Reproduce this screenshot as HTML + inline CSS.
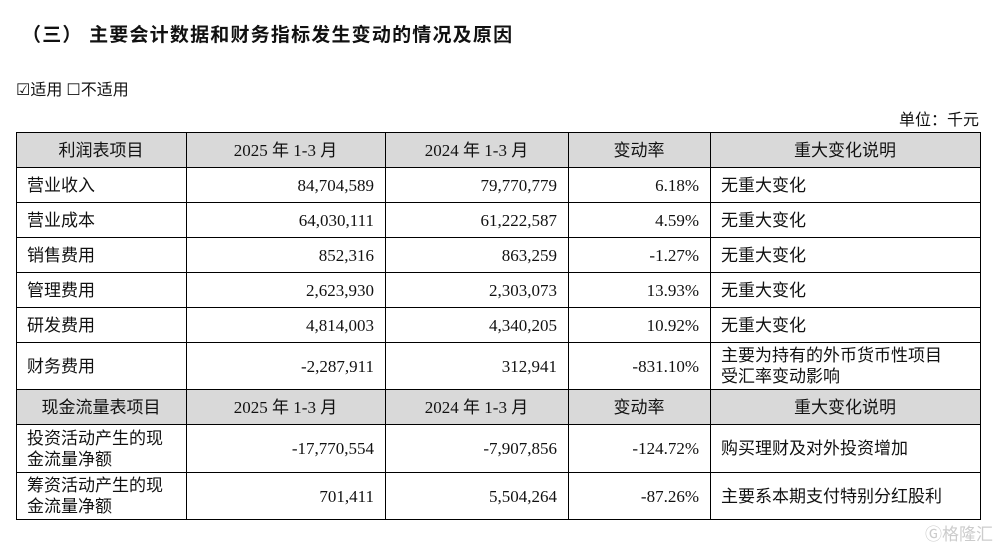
<!DOCTYPE html>
<html><head><meta charset="utf-8">
<style>
html,body{margin:0;padding:0;background:#fff;}
body{width:1000px;height:547px;position:relative;overflow:hidden;font-family:"Liberation Serif","Noto Sans CJK SC",serif;color:#111;}
.title{position:absolute;left:22px;top:20px;font-family:"Liberation Sans","Noto Sans CJK SC",sans-serif;font-weight:bold;font-size:19px;letter-spacing:1.2px;white-space:nowrap;}
.apply{position:absolute;left:16px;top:76px;font-size:16px;font-family:"Liberation Serif","Noto Sans CJK SC",serif;white-space:nowrap;}
.unit{position:absolute;right:21px;top:106px;font-size:16px;white-space:nowrap;}
table{position:absolute;left:16px;top:132px;border-collapse:collapse;table-layout:fixed;width:964px;font-size:17px;}
td{border:1.5px solid #000;padding:0 11px 0 10px;line-height:21px;overflow:hidden;white-space:nowrap;}
tr.h td{background:#d9d9d9;text-align:center;}
td.n{text-align:right;}
</style></head><body>
<div class="title">（三） 主要会计数据和财务指标发生变动的情况及原因</div>
<div class="apply"><span>☑适用</span> <span>☐不适用</span></div>
<div class="unit">单位：千元</div>
<table>
<colgroup><col style="width:170px"><col style="width:199px"><col style="width:183px"><col style="width:142px"><col style="width:270px"></colgroup>
<tr class="h" style="height:35px"><td>利润表项目</td><td>2025 年 1-3 月</td><td>2024 年 1-3 月</td><td>变动率</td><td>重大变化说明</td></tr>
<tr style="height:35px"><td>营业收入</td><td class="n">84,704,589</td><td class="n">79,770,779</td><td class="n">6.18%</td><td>无重大变化</td></tr>
<tr style="height:35px"><td>营业成本</td><td class="n">64,030,111</td><td class="n">61,222,587</td><td class="n">4.59%</td><td>无重大变化</td></tr>
<tr style="height:35px"><td>销售费用</td><td class="n">852,316</td><td class="n">863,259</td><td class="n">-1.27%</td><td>无重大变化</td></tr>
<tr style="height:35px"><td>管理费用</td><td class="n">2,623,930</td><td class="n">2,303,073</td><td class="n">13.93%</td><td>无重大变化</td></tr>
<tr style="height:35px"><td>研发费用</td><td class="n">4,814,003</td><td class="n">4,340,205</td><td class="n">10.92%</td><td>无重大变化</td></tr>
<tr style="height:47px"><td>财务费用</td><td class="n">-2,287,911</td><td class="n">312,941</td><td class="n">-831.10%</td><td>主要为持有的外币货币性项目<br>受汇率变动影响</td></tr>
<tr class="h" style="height:35px"><td>现金流量表项目</td><td>2025 年 1-3 月</td><td>2024 年 1-3 月</td><td>变动率</td><td>重大变化说明</td></tr>
<tr style="height:48px"><td>投资活动产生的现<br>金流量净额</td><td class="n">-17,770,554</td><td class="n">-7,907,856</td><td class="n">-124.72%</td><td>购买理财及对外投资增加</td></tr>
<tr style="height:47px"><td>筹资活动产生的现<br>金流量净额</td><td class="n">701,411</td><td class="n">5,504,264</td><td class="n">-87.26%</td><td>主要系本期支付特别分红股利</td></tr>
</table>
<div style="position:absolute;left:925px;top:520px;font-family:'Noto Sans CJK SC',sans-serif;font-size:17px;color:#ccc;">Ⓖ格隆汇</div>
</body></html>
